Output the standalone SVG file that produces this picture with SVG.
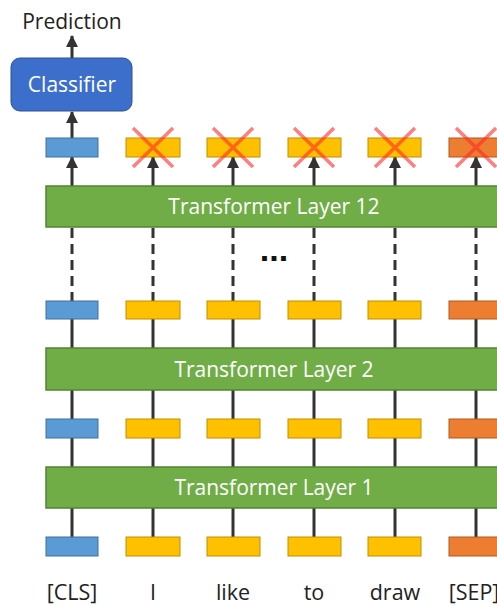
<svg xmlns="http://www.w3.org/2000/svg" width="497" height="606" viewBox="0 0 497 606">
<defs>
<style>
.ln{stroke:#333;stroke-width:3;fill:none}
.dash{stroke:#333;stroke-width:3;fill:none;stroke-dasharray:10 6}
.layer{fill:#70AD47;stroke:#548235;stroke-width:1.5}
.lt{font-family:"Open Sans","Noto Sans",sans-serif;font-size:21px;fill:#fff;text-anchor:middle}
.cls{fill:#5B9BD5;stroke:#41719C;stroke-width:1}
.tok{fill:#FFC000;stroke:#BF9000;stroke-width:1}
.sep{fill:#ED7D31;stroke:#AE5A21;stroke-width:1}
.x{stroke:#FF2A2A;stroke-opacity:0.6;stroke-width:3.5}
.lab{font-family:"Open Sans","Noto Sans",sans-serif;font-size:21.5px;fill:#222;text-anchor:middle}
</style>
<marker id="ah" markerUnits="userSpaceOnUse" markerWidth="12" markerHeight="12" viewBox="0 0 12 12" refX="11" refY="6" orient="auto">
<path d="M0,0 L12,6 L0,12 z" fill="#333"/>
</marker>
</defs>
<g id="connectors">
<line class="ln" x1="72" y1="58" x2="72" y2="36" marker-end="url(#ah)"/>
<line class="ln" x1="72" y1="138" x2="72" y2="112" marker-end="url(#ah)"/>
<g id="col-lines">
<line class="ln" x1="72" y1="537" x2="72" y2="300"/>
<line class="ln" x1="153" y1="537" x2="153" y2="300"/>
<line class="ln" x1="233" y1="537" x2="233" y2="300"/>
<line class="ln" x1="314" y1="537" x2="314" y2="300"/>
<line class="ln" x1="395" y1="537" x2="395" y2="300"/>
<line class="ln" x1="476" y1="537" x2="476" y2="300"/>
</g>
<g id="dashes">
<line class="dash" x1="72" y1="228" x2="72" y2="300"/>
<line class="dash" x1="153" y1="228" x2="153" y2="300"/>
<line class="dash" x1="233" y1="228" x2="233" y2="300"/>
<line class="dash" x1="314" y1="228" x2="314" y2="300"/>
<line class="dash" x1="395" y1="228" x2="395" y2="300"/>
<line class="dash" x1="476" y1="228" x2="476" y2="300"/>
</g>
<g id="top-arrows">
<line class="ln" x1="72" y1="186" x2="72" y2="157" marker-end="url(#ah)"/>
<line class="ln" x1="153" y1="186" x2="153" y2="157" marker-end="url(#ah)"/>
<line class="ln" x1="233" y1="186" x2="233" y2="157" marker-end="url(#ah)"/>
<line class="ln" x1="314" y1="186" x2="314" y2="157" marker-end="url(#ah)"/>
<line class="ln" x1="395" y1="186" x2="395" y2="157" marker-end="url(#ah)"/>
<line class="ln" x1="476" y1="186" x2="476" y2="157" marker-end="url(#ah)"/>
</g>
</g>
<g id="prediction"><text x="72" y="29" font-family="Open Sans, Noto Sans, sans-serif" font-size="21" fill="#222" text-anchor="middle">Prediction</text></g>
<g id="classifier">
<rect x="11" y="58" width="121" height="53" rx="9" fill="#3B6FCB" stroke="#2F528F" stroke-width="1"/>
<text x="72" y="92" font-family="Open Sans, Noto Sans, sans-serif" font-size="21" fill="#fff" text-anchor="middle">Classifier</text>
</g>
<g id="layer12"><rect class="layer" x="46" y="186" width="460" height="41"/><text class="lt" x="274" y="214">Transformer Layer 12</text></g>
<g id="ellipsis"><text x="274" y="261" font-family="Liberation Sans, Arial, sans-serif" font-size="34" font-weight="bold" fill="#111" text-anchor="middle">...</text></g>
<g id="layer2"><rect class="layer" x="46" y="348" width="460" height="42"/><text class="lt" x="274" y="377">Transformer Layer 2</text></g>
<g id="layer1"><rect class="layer" x="46" y="467" width="460" height="41"/><text class="lt" x="274" y="495">Transformer Layer 1</text></g>
<g id="row-top">
<rect class="cls" x="46" y="138" width="52" height="19"/>
<rect class="tok" x="126" y="138" width="54" height="19"/>
<rect class="tok" x="207" y="138" width="53" height="19"/>
<rect class="tok" x="288" y="138" width="53" height="19"/>
<rect class="tok" x="368" y="138" width="53" height="19"/>
<rect class="sep" x="449" y="138" width="53" height="19"/>
</g>
<g id="crosses">
<path class="x" d="M133,128 L173,167 M173,128 L133,167"/>
<path class="x" d="M213,128 L253,167 M253,128 L213,167"/>
<path class="x" d="M294,128 L334,167 M334,128 L294,167"/>
<path class="x" d="M375,128 L415,167 M415,128 L375,167"/>
<path class="x" d="M456,128 L496,167 M496,128 L456,167"/>
</g>
<g id="row-3">
<rect class="cls" x="46" y="301" width="52" height="18"/>
<rect class="tok" x="126" y="301" width="54" height="18"/>
<rect class="tok" x="207" y="301" width="53" height="18"/>
<rect class="tok" x="288" y="301" width="53" height="18"/>
<rect class="tok" x="368" y="301" width="53" height="18"/>
<rect class="sep" x="449" y="301" width="53" height="18"/>
</g>
<g id="row-2">
<rect class="cls" x="46" y="419" width="52" height="19"/>
<rect class="tok" x="126" y="419" width="54" height="19"/>
<rect class="tok" x="207" y="419" width="53" height="19"/>
<rect class="tok" x="288" y="419" width="53" height="19"/>
<rect class="tok" x="368" y="419" width="53" height="19"/>
<rect class="sep" x="449" y="419" width="53" height="19"/>
</g>
<g id="row-1">
<rect class="cls" x="46" y="537" width="52" height="19"/>
<rect class="tok" x="126" y="537" width="54" height="19"/>
<rect class="tok" x="207" y="537" width="53" height="19"/>
<rect class="tok" x="288" y="537" width="53" height="19"/>
<rect class="tok" x="368" y="537" width="53" height="19"/>
<rect class="sep" x="449" y="537" width="53" height="19"/>
</g>
<g id="labels">
<text class="lab" x="72" y="600">[CLS]</text>
<text class="lab" x="153" y="600">I</text>
<text class="lab" x="233" y="600">like</text>
<text class="lab" x="314" y="600">to</text>
<text class="lab" x="395" y="600">draw</text>
<text class="lab" x="474" y="600">[SEP]</text>
</g>
</svg>
